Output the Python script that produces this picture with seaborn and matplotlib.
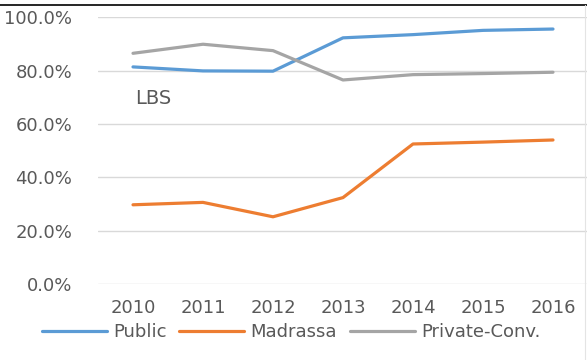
import matplotlib
matplotlib.use("Agg")
import matplotlib.pyplot as plt
from matplotlib.lines import Line2D
import pandas as pd
import seaborn as sns

years = [2010, 2011, 2012, 2013, 2014, 2015, 2016]
public = [0.814, 0.799, 0.798, 0.923, 0.935, 0.951, 0.956]
madrassa = [0.297, 0.306, 0.252, 0.324, 0.525, 0.532, 0.540]
private_conv = [0.865, 0.899, 0.875, 0.765, 0.785, 0.789, 0.794]
series_names = ["Public", "Madrassa", "Private-Conv."]
colors = ["#5B9BD5", "#ED7D31", "#A5A5A5"]
y_ticks = [0.0, 0.2, 0.4, 0.6, 0.8, 1.0]
panel_label = "LBS"

df = pd.DataFrame({
    "year": years * 3,
    "rate": public + madrassa + private_conv,
    "group": [series_names[0]] * 7 + [series_names[1]] * 7 + [series_names[2]] * 7,
})

sns.set_theme(style="white")
plt.rcParams["font.family"] = ["DejaVu Sans"]

W, H = 587, 360
fig = plt.figure(figsize=(W / 100, H / 100), dpi=100)
left, right = 98, 588
bottom, top = 284, 17.3
ax = fig.add_axes([left / W, 1 - bottom / H, (right - left) / W, (bottom - top) / H])

sns.lineplot(data=df, x="year", y="rate", hue="group", hue_order=series_names,
             palette=colors, linewidth=2.3, legend=False, ax=ax, sort=False)

ax.set_xlim(2009.5, 2016.5)
ax.set_ylim(0, 1.0)
ax.set_yticks(y_ticks)
ax.set_yticklabels([f"{v * 100:.1f}%" for v in y_ticks])
ax.set_xticks(years)
ax.set_xticklabels([str(y) for y in years])
ax.grid(axis="y", color="#D9D9D9", linewidth=1.0)
ax.set_axisbelow(True)
for s in ax.spines.values():
    s.set_visible(False)
ax.tick_params(axis="both", length=0, labelsize=13, labelcolor="#595959")
ax.tick_params(axis="y", pad=18.5)
ax.tick_params(axis="x", pad=11)
ax.set_xlabel("")
ax.set_ylabel("")
for lbl in ax.get_yticklabels():
    lbl.set_clip_on(False)

ax.text(2010.03, 0.695, panel_label, fontsize=14, color="#595959", va="center", ha="left")

handles = [Line2D([0], [0], color=c, linewidth=2.3) for c in colors]
fig.legend(handles, series_names, loc="center", bbox_to_anchor=(291 / W, 1 - 332 / H),
           ncol=3, frameon=False, fontsize=13, handlelength=3.6, handletextpad=0.35,
           columnspacing=0.7, labelcolor="#595959", borderaxespad=0)

# frame lines along the top and right edges
fig.add_artist(Line2D([0, 1], [1 - 5 / H, 1 - 5 / H], transform=fig.transFigure,
                      color="black", linewidth=1.2))
fig.add_artist(Line2D([584.5 / W, 584.5 / W], [1 - 5 / H, 0], transform=fig.transFigure,
                      color="#E4E4E4", linewidth=0.8))

fig.savefig("out.png", dpi=100)
